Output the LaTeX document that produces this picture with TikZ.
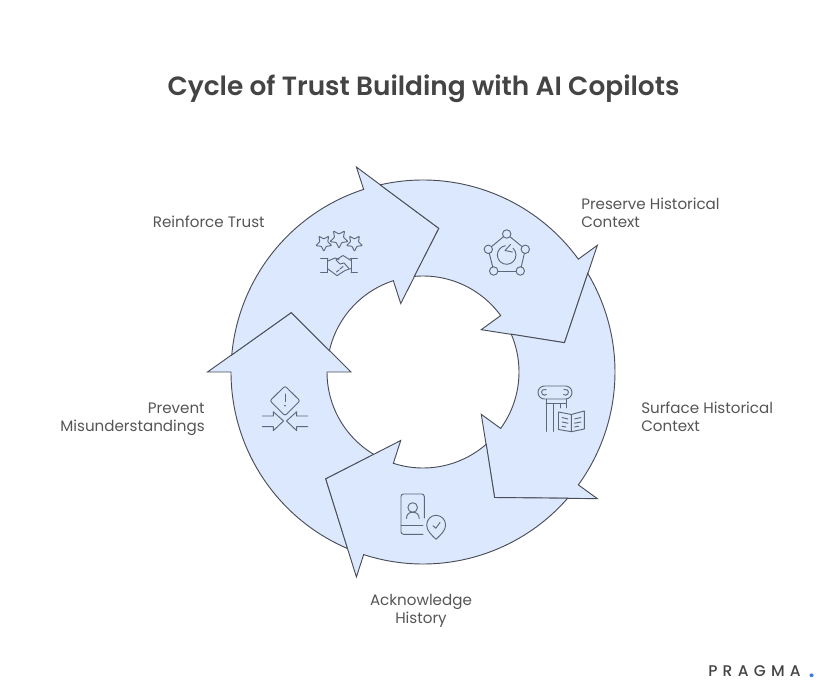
\documentclass[tikz,border=0pt]{standalone}
\usepackage{fontspec}
\setmainfont{Poppins}
\newfontfamily\titlefont{Poppins SemiBold}
\newfontfamily\logofont[LetterSpace=34]{Poppins Medium}
\usepackage{tikz}
\definecolor{edgegrey}{HTML}{4A4D57}
\definecolor{ringblue}{HTML}{DCE8FD}
\definecolor{icongrey}{HTML}{5F6878}
\definecolor{textgrey}{HTML}{555555}
\definecolor{titlegrey}{HTML}{444444}
\definecolor{logoblue}{HTML}{3B7BE8}
\tikzset{
  arrowshape/.style={draw=edgegrey,fill=ringblue,line width=0.7pt,line join=miter},
  iconline/.style={draw=icongrey,line width=0.7pt,line join=round,line cap=round},
  labeltext/.style={inner sep=0pt,text=textgrey,font=\fontsize{11.35}{13.5}\selectfont},
  starpic/.pic={\draw[iconline,rounded corners=0.5] (-90:9.5) -- (-54:4.7) -- (-18:9.5) -- (18:4.7) -- (54:9.5) -- (90:4.7) -- (126:9.5) -- (162:4.7) -- (198:9.5) -- (234:4.7) -- cycle;}
}
\begin{document}
\begin{tikzpicture}[x=0.75pt,y=0.75pt,yscale=-1,xscale=1]
    \useasboundingbox (0,0) rectangle (833,698);

    %Ring of arrows, one per head angle
    \begin{scope}[shift={(423,372)}]
    \foreach \a in {180,252,324,36,108}{
      \draw[arrowshape] (\a-66.9:192) arc[start angle=\a-66.9,end angle=\a,radius=192]
        -- (\a:215.5) -- (\a+24.3:144.5) -- (\a:72) -- (\a:96)
        arc[start angle=\a,end angle=\a-59.2,radius=96]
        -- (\a-47.7:144.5) -- cycle;
    }
    \end{scope}

    %Stars
    \path (323.8,243) pic[scale=0.88] {starpic};
    \path (339,238.7) pic {starpic};
    \path (354.5,243) pic[scale=0.88] {starpic};
    %Handshake
    \draw[iconline] (320.7,258.3) -- (328,258.3) (327,258.3) -- (327,272.7) (320.7,272.7) -- (327,272.7);
    \draw[iconline] (357.3,258.3) -- (350,258.3) (351.2,258.3) -- (351.2,272.7) (357.3,272.7) -- (351.2,272.7);
    \draw[iconline] (328,261) -- (335,258) -- (339,259.5) (328,269) -- (337,275.7) -- (345,270.5) -- (351,268.5);
    \draw[iconline] (351,260.5) -- (343,255.5) -- (336,260) -- (340,264) -- (344,263) -- (349,268.5);
    \draw[iconline] (340,269) -- (343,266.5) (336.5,272) -- (339,270);

    %Pentagon of circles
    \foreach \x/\y/\u/\v in {506.7/234/525.3/249.3,525.3/249.3/520.3/271,520.3/271/493.7/271,493.7/271/488.3/249.3,488.3/249.3/506.7/234}{
      \draw[iconline] (\x,\y) -- (\u,\v);
    }
    \foreach \x/\y in {506.7/234,525.3/249.3,520.3/271,493.7/271,488.3/249.3}{
      \draw[iconline,fill=ringblue] (\x,\y) circle (4.2);
    }
    %Curve Left Arrow
    \draw[iconline] (513,248.2) arc[start angle=-47,end angle=262,radius=9.3];
    \draw[iconline] (510.5,244.5) -- (505,250.5) -- (512.5,252);

    %Column capital
    \draw[iconline] (544.5,386) -- (565.5,386) arc[start angle=-90,end angle=90,radius=6.5] -- (544.5,399) arc[start angle=90,end angle=270,radius=6.5];
    \draw[iconline] (546.5,394.5) arc[start angle=50,end angle=300,radius=3];
    \draw[iconline] (563.5,394.5) arc[start angle=130,end angle=-120,radius=3];
    \draw[iconline] (546,403.5) -- (566.5,403.5) (566.5,399) -- (566.5,408) (560,403.5) -- (560,408);
    \draw[iconline] (546,399) -- (546,431.3) (553.3,403.5) -- (553.3,431.3);
    %Open book
    \draw[iconline] (558.5,412) -- (571.3,414.5) -- (584.3,411) -- (584.3,429) -- (571.3,431.7) -- (558.5,429.5) -- cycle (571.3,414.5) -- (571.3,431.7);
    \draw[iconline] (562,417.5) -- (568,419) (562,422) -- (568,423.2) (562,426.3) -- (566,427);
    \draw[iconline] (574.5,419) -- (581,417.5) (574.5,423.2) -- (581,422) (574.5,427) -- (578.5,426.3);

    %Card with person
    \draw[iconline] (424.3,518) -- (424.3,496.5) arc[start angle=0,end angle=-90,radius=2.5] -- (403.5,494) arc[start angle=-90,end angle=-180,radius=2.5] -- (401,531.8) arc[start angle=180,end angle=90,radius=2.5] -- (423,534.3);
    \draw[iconline] (401,525.5) -- (423,525.5);
    \draw[iconline] (412.7,507.5) circle (4.8);
    \draw[iconline] (406.5,518.5) .. controls (406.5,514.5) and (409,512.2) .. (412.7,512.2) .. controls (416.5,512.2) and (419.2,514.5) .. (419.2,518.5);
    %Pin with check
    \draw[iconline] (436,539.3) .. controls (431,534.5) and (426.7,530.5) .. (426.7,525) .. controls (426.7,519.5) and (431,515.3) .. (436,515.3) .. controls (441.2,515.3) and (445.6,519.5) .. (445.6,525) .. controls (445.6,530.5) and (441,534.5) .. (436,539.3) -- cycle;
    \draw[iconline] (433,525.7) -- (435.8,528.3) -- (440,522.5);

    %Warning diamond
    \draw[iconline,rounded corners=1.5] (285,386) -- (300,400.8) -- (285,415.7) -- (270,400.8) -- cycle;
    \draw[iconline] (285,394) -- (285,401.7);
    \draw[iconline,line width=1.1pt] (285,405.5) -- (285,405.8);
    %Arrows pressing inward
    \draw[iconline] (262.3,416) -- (273.3,416) -- (273.3,411.7) -- (283.5,421) -- (273.3,430.7) -- (273.3,426.7) -- (262.3,426.7);
    \draw[iconline] (307.7,416) -- (296.7,416) -- (296.7,411.7) -- (286.5,421) -- (296.7,430.7) -- (296.7,426.7) -- (307.7,426.7);

    % Text Node
    \node (title) [inner sep=0pt,text=titlegrey,font=\fontsize{19.8}{24}\titlefont] at (423.5,89) {Cycle of Trust Building with AI Copilots};
    % Text Node
    \node (reinforce) [labeltext,anchor=east] at (265,222) {Reinforce Trust};
    % Text Node
    \node (preserve) [labeltext,anchor=west,align=left] at (581,213) {Preserve Historical\\Context};
    % Text Node
    \node (surface) [labeltext,anchor=west,align=left] at (641,417) {Surface Historical\\Context};
    % Text Node
    \node (acknowledge) [labeltext,align=center] at (421,611) {Acknowledge\\History};
    % Text Node
    \node (prevent) [labeltext,anchor=east,align=right] at (205,419) {Prevent\\Misunderstandings};
    % Text Node
    \node (logo) [inner sep=0pt,anchor=base west,text=titlegrey,font=\fontsize{11.6}{13}\logofont] at (708,677) {PRAGMA};
    % Text Node
    \node (logodot) [inner sep=0pt,anchor=base west,text=logoblue,font=\fontsize{15}{15}\selectfont\bfseries] at (808.5,678) {.};

\end{tikzpicture}
\end{document}
